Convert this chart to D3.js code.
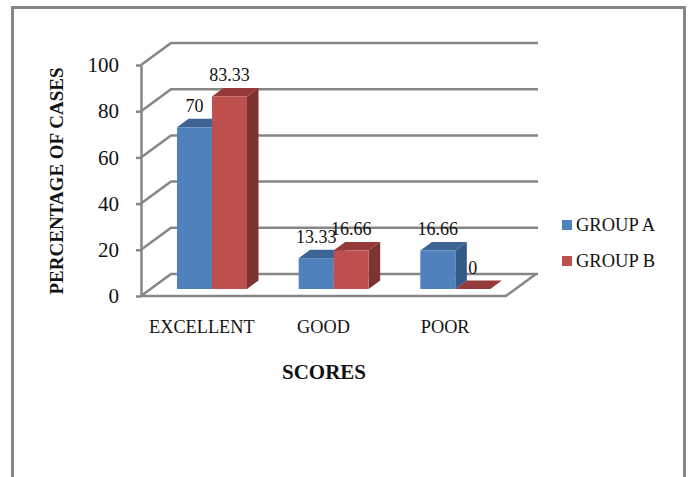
<!DOCTYPE html>
<html>
<head>
<meta charset="utf-8">
<script src="https://cdn.jsdelivr.net/npm/d3@7"></script>
<style>
  html, body { margin: 0; padding: 0; background: #fff; }
  text { font-family: "Liberation Serif", "Times New Roman", serif; fill: #111; }
</style>
</head>
<body>
<div id="chart"></div>
<script>
const categories = ['EXCELLENT', 'GOOD', 'POOR'];
const groupA = [70, 13.33, 16.66];
const groupB = [83.33, 16.66, 0];
const yTicks = [0, 20, 40, 60, 80, 100];

const width = 690, height = 477;
const gridColor = '#868686';

// floor and wall depth of the fake 3d box
const wallDx = 30, wallDy = -22;
// how far the bars stick out, and where their base sits on the floor
const barDx = 11.5, barDy = -8.5, baseDy = -7;
const barW = 35, barInset = 36;

const series = [
  { name: 'GROUP A', values: groupA, front: '#4f81bd', top: '#3c6595', side: '#345a88' },
  { name: 'GROUP B', values: groupB, front: '#c0504d', top: '#95393a', side: '#7c3331' }
];

const x = d3.scaleBand().domain(categories).range([141, 506]);
const y = d3.scaleLinear().domain([0, 100]).range([296, 65]);

const svg = d3.select('#chart').append('svg')
  .attr('width', width)
  .attr('height', height)
  .style('display', 'block');

// outer frame, its bottom edge runs off the page
svg.append('rect')
  .attr('x', 12.5).attr('y', 7.5)
  .attr('width', 672).attr('height', 490)
  .attr('fill', '#fff')
  .attr('stroke', gridColor)
  .attr('stroke-width', 3);

const grid = svg.append('g')
  .attr('fill', 'none')
  .attr('stroke', gridColor)
  .attr('stroke-width', 2.5);

// back wall lines and the slanted side wall
yTicks.forEach(function(t) {
  grid.append('path')
    .attr('d', d3.line()([
      [x.range()[0], y(t)],
      [x.range()[0] + wallDx, y(t) + wallDy],
      [x.range()[1] + wallDx + 2, y(t) + wallDy]
    ]));
});

// front and right edges of the floor
grid.append('path')
  .attr('d', d3.line()([
    [x.range()[0], y(0)],
    [x.range()[1], y(0)],
    [x.range()[1] + wallDx, y(0) + wallDy]
  ]));

const yAxis = d3.axisLeft(y)
  .tickValues(yTicks)
  .tickSize(5)
  .tickPadding(17)
  .tickSizeOuter(0);

const yG = svg.append('g')
  .attr('transform', 'translate(141,0)')
  .call(yAxis);
yG.selectAll('path, line')
  .attr('stroke', gridColor)
  .attr('stroke-width', 2.5);
yG.selectAll('text')
  .style('font-size', '21px')
  .attr('fill', '#111');

// bars, each one is a front, a top and a side face
const bars = svg.append('g');
categories.forEach(function(cat, c) {
  series.forEach(function(s, i) {
    const left = x(cat) + barInset + i * barW;
    const right = left + barW;
    const base = y(0) + baseDy;
    const top = y(s.values[c]) + baseDy;
    const g = bars.append('g');

    g.append('path')
      .attr('fill', s.side)
      .attr('d', d3.line()([
        [right, top], [right + barDx, top + barDy],
        [right + barDx, base + barDy], [right, base]
      ]) + 'Z');
    g.append('path')
      .attr('fill', s.top)
      .attr('d', d3.line()([
        [left, top], [left + barDx, top + barDy],
        [right + barDx, top + barDy], [right, top]
      ]) + 'Z');
    g.append('rect')
      .attr('x', left)
      .attr('y', top)
      .attr('width', barW)
      .attr('height', base - top)
      .attr('fill', s.front);

    // value label sits over the bar
    g.append('text')
      .attr('x', left + barW / 2)
      .attr('y', top + barDy - 7)
      .attr('text-anchor', 'middle')
      .style('font-size', '18px')
      .text(s.values[c]);
  });
});

const xAxis = d3.axisBottom(x).tickSize(0).tickPadding(24);
const xG = svg.append('g')
  .attr('transform', 'translate(0,296)')
  .call(xAxis);
xG.select('.domain').remove();
xG.selectAll('text')
  .style('font-size', '18.3px')
  .attr('fill', '#111');

svg.append('text')
  .attr('x', 324)
  .attr('y', 379)
  .attr('text-anchor', 'middle')
  .style('font-size', '21px')
  .style('font-weight', 'bold')
  .text('SCORES');

svg.append('text')
  .attr('transform', 'translate(63,181) rotate(-90)')
  .attr('text-anchor', 'middle')
  .style('font-size', '19px')
  .style('font-weight', 'bold')
  .text('PERCENTAGE OF CASES');

// legend
const legend = svg.append('g');
series.forEach(function(s, i) {
  legend.append('rect')
    .attr('x', 562)
    .attr('y', 220 + i * 36)
    .attr('width', 10)
    .attr('height', 10)
    .attr('fill', s.front);
  legend.append('text')
    .attr('x', 576)
    .attr('y', 231 + i * 36)
    .style('font-size', '18.5px')
    .text(s.name);
});
</script>
</body>
</html>
